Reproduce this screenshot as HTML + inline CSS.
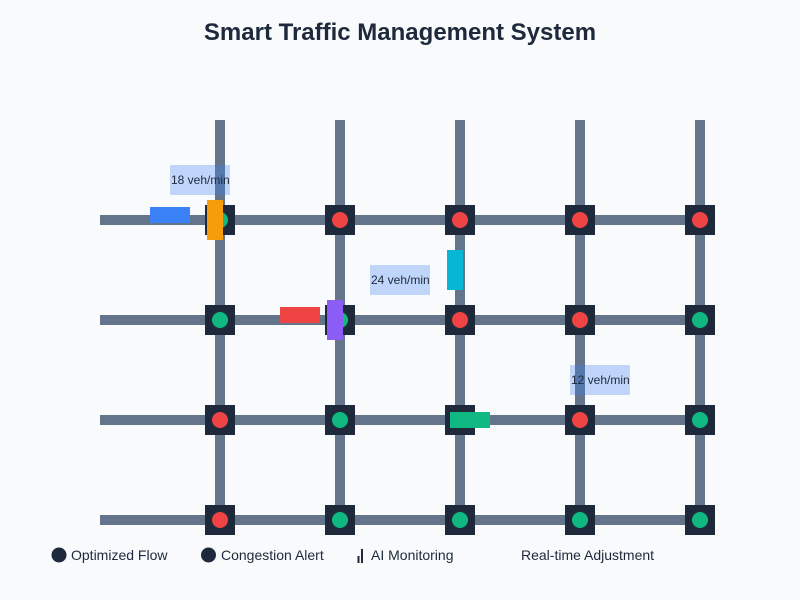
<!DOCTYPE html>
<html>
<head>
<meta charset="utf-8">
<style>
  html, body { margin:0; padding:0; background:#f8fafc; }
  svg { display:block; }
</style>
</head>
<body>
<svg width="800" height="600" viewBox="0 0 800 600" xmlns="http://www.w3.org/2000/svg">
  <rect x="0" y="0" width="800" height="600" fill="#f8fafc"/>
  <text x="400" y="40" text-anchor="middle" font-family="Liberation Sans, Arial, sans-serif" font-size="24" font-weight="bold" fill="#1e293b">Smart Traffic Management System</text>

  <!-- roads -->
  <g fill="#64748b">
    <rect x="100" y="215" width="600" height="10"/>
    <rect x="100" y="315" width="600" height="10"/>
    <rect x="100" y="415" width="600" height="10"/>
    <rect x="100" y="515" width="600" height="10"/>
    <rect x="215" y="120" width="10" height="400"/>
    <rect x="335" y="120" width="10" height="400"/>
    <rect x="455" y="120" width="10" height="400"/>
    <rect x="575" y="120" width="10" height="400"/>
    <rect x="695" y="120" width="10" height="400"/>
  </g>

  <!-- intersections -->
  <g fill="#1e293b">
    <rect x="205" y="205" width="30" height="30"/><rect x="325" y="205" width="30" height="30"/><rect x="445" y="205" width="30" height="30"/><rect x="565" y="205" width="30" height="30"/><rect x="685" y="205" width="30" height="30"/>
    <rect x="205" y="305" width="30" height="30"/><rect x="325" y="305" width="30" height="30"/><rect x="445" y="305" width="30" height="30"/><rect x="565" y="305" width="30" height="30"/><rect x="685" y="305" width="30" height="30"/>
    <rect x="205" y="405" width="30" height="30"/><rect x="325" y="405" width="30" height="30"/><rect x="445" y="405" width="30" height="30"/><rect x="565" y="405" width="30" height="30"/><rect x="685" y="405" width="30" height="30"/>
    <rect x="205" y="505" width="30" height="30"/><rect x="325" y="505" width="30" height="30"/><rect x="445" y="505" width="30" height="30"/><rect x="565" y="505" width="30" height="30"/><rect x="685" y="505" width="30" height="30"/>
  </g>
  <!-- lights -->
  <circle cx="220" cy="220" r="8" fill="#10b981"/>
  <circle cx="340" cy="220" r="8" fill="#ef4444"/>
  <circle cx="460" cy="220" r="8" fill="#ef4444"/>
  <circle cx="580" cy="220" r="8" fill="#ef4444"/>
  <circle cx="700" cy="220" r="8" fill="#ef4444"/>

  <circle cx="220" cy="320" r="8" fill="#10b981"/>
  <circle cx="340" cy="320" r="8" fill="#10b981"/>
  <circle cx="460" cy="320" r="8" fill="#ef4444"/>
  <circle cx="580" cy="320" r="8" fill="#ef4444"/>
  <circle cx="700" cy="320" r="8" fill="#10b981"/>

  <circle cx="220" cy="420" r="8" fill="#ef4444"/>
  <circle cx="340" cy="420" r="8" fill="#10b981"/>
  <circle cx="460" cy="420" r="8" fill="#ef4444"/>
  <circle cx="580" cy="420" r="8" fill="#ef4444"/>
  <circle cx="700" cy="420" r="8" fill="#10b981"/>

  <circle cx="220" cy="520" r="8" fill="#ef4444"/>
  <circle cx="340" cy="520" r="8" fill="#10b981"/>
  <circle cx="460" cy="520" r="8" fill="#10b981"/>
  <circle cx="580" cy="520" r="8" fill="#10b981"/>
  <circle cx="700" cy="520" r="8" fill="#10b981"/>

  <!-- vehicles -->
  <rect x="150" y="207" width="40" height="16" fill="#3b82f6"/>
  <rect x="207" y="200" width="16" height="40" fill="#f59e0b"/>
  <rect x="280" y="307" width="40" height="16" fill="#ef4444"/>
  <rect x="327" y="300" width="16" height="40" fill="#8b5cf6"/>
  <rect x="447" y="250" width="16" height="40" fill="#06b6d4"/>
  <rect x="450" y="412" width="40" height="16" fill="#10b981"/>

  <!-- labels -->
  <g font-family="Liberation Sans, Arial, sans-serif" font-size="12" fill="#1e293b">
    <rect x="170" y="165" width="60" height="30" fill="#3b82f6" fill-opacity="0.3"/>
    <text x="171" y="184">18 veh/min</text>
    <rect x="370" y="265" width="60" height="30" fill="#3b82f6" fill-opacity="0.3"/>
    <text x="371" y="284">24 veh/min</text>
    <rect x="570" y="365" width="60" height="30" fill="#3b82f6" fill-opacity="0.3"/>
    <text x="571" y="384">12 veh/min</text>
  </g>

  <!-- legend -->
  <g font-family="Liberation Sans, Arial, sans-serif" font-size="14" fill="#1e293b">
    <circle cx="59" cy="555" r="7.5" fill="#1e293b"/>
    <text x="71" y="560">Optimized Flow</text>
    <circle cx="208.5" cy="555" r="7.5" fill="#1e293b"/>
    <text x="221" y="560">Congestion Alert</text>
    <rect x="357.5" y="556" width="2" height="7" fill="#1e293b"/>
    <rect x="361" y="549" width="2" height="14" fill="#1e293b"/>
    <text x="371" y="560">AI Monitoring</text>
    <text x="521" y="560">Real-time Adjustment</text>
  </g>
</svg>
</body>
</html>
